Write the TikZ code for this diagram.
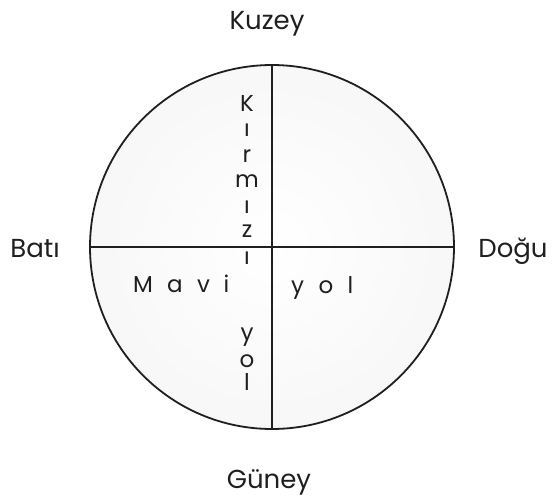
\documentclass[tikz,border=0pt]{standalone}
\usepackage{fontspec}
\setmainfont{Poppins}

\begin{document}
\begin{tikzpicture}[
  x=1pt, y=-1pt,
  yon/.style={anchor=base, inner sep=0pt, text=black!88,
              font=\fontsize{26}{26}\selectfont},
  harf/.style={anchor=base, inner sep=0pt, text=black!88,
               font=\fontsize{23}{23}\selectfont},
  hat/.style={line width=2.3pt, draw=black!88},
]
  \useasboundingbox (0,0) rectangle (552,498);

  \node[circle, draw=black!88, line width=1.8pt, minimum size=364pt, inner sep=0pt,
        inner color=white, outer color=black!3] (ring) at (272,247) {};
  \draw[hat] (ring.north) -- (ring.south);
  \draw[hat] (ring.west) -- (ring.east);

  \node[yon] (kuzey) at (267,29) {Kuzey};
  \node[yon] (guney) at (269,488) {Güney};
  \node[yon] (bati) at (35,257) {Batı};
  \node[yon] (dogu) at (513,257) {Doğu};

  % Kirmizi yol
  \node[harf] (k1) at (247,111) {K};
  \node[harf] (k2) at (247,136) {ı};
  \node[harf] (k3) at (247,162) {r};
  \node[harf] (k4) at (247,187) {m};
  \node[harf] (k5) at (247,213) {ı};
  \node[harf] (k6) at (247,237) {z};
  \node[harf] (k7) at (247,264) {ı};

  % Mavi yol
  \node[harf] (m1) at (143,292) {M};
  \node[harf] (m2) at (175,292) {a};
  \node[harf] (m3) at (203.5,292) {v};
  \node[harf] (m4) at (226.5,292) {i};

  \node[harf] (y1) at (297.5,293) {y};
  \node[harf] (y2) at (326,293) {o};
  \node[harf] (y3) at (350.5,293) {l};

  \node[harf] (v1) at (247,340) {y};
  \node[harf] (v2) at (247,367) {o};
  \node[harf] (v3) at (247,390) {l};
\end{tikzpicture}
\end{document}
